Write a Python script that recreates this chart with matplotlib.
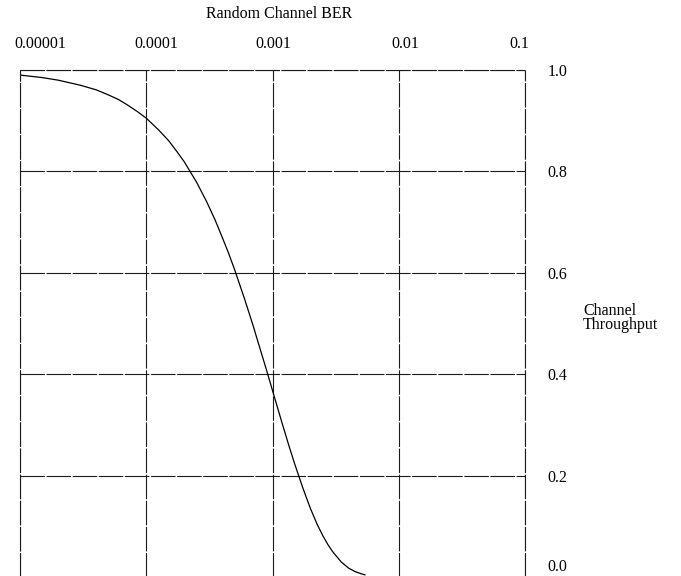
import numpy as np
import matplotlib
matplotlib.use("Agg")
import matplotlib.pyplot as plt
import matplotlib.transforms as mtrans

plt.rcParams['font.family'] = ['Liberation Serif', 'DejaVu Serif']

# values
ber = [1e-5, 1.5e-5, 2e-5, 3e-5, 4e-5, 5e-5, 6e-5, 7e-5, 8.5e-5, 1e-4,
       1.25e-4, 1.5e-4, 1.75e-4, 2e-4, 2.5e-4, 3e-4, 3.5e-4, 4e-4, 4.5e-4,
       5e-4, 6e-4, 7e-4, 8e-4, 9e-4, 1e-3, 1.1e-3, 1.2e-3, 1.35e-3, 1.5e-3,
       1.75e-3, 2e-3, 2.25e-3, 2.5e-3, 2.75e-3, 3e-3, 3.5e-3, 4e-3, 4.5e-3,
       5e-3, 5.4e-3]
throughput = [0.990, 0.985, 0.980, 0.970, 0.961, 0.951, 0.942, 0.932, 0.918,
              0.905, 0.882, 0.861, 0.839, 0.819, 0.779, 0.741, 0.705, 0.670,
              0.638, 0.607, 0.549, 0.497, 0.449, 0.407, 0.368, 0.333, 0.301,
              0.259, 0.223, 0.174, 0.135, 0.105, 0.082, 0.064, 0.050, 0.030,
              0.018, 0.011, 0.007, 0.0045]

xticks = [1e-5, 1e-4, 1e-3, 1e-2, 1e-1]
xlabels = ['0.00001', '0.0001', '0.001', '0.01', '0.1']
yticks = [0.0, 0.2, 0.4, 0.6, 0.8, 1.0]
ylabels = ['0.0', '0.2', '0.4', '0.6', '0.8', '1.0']

fig = plt.figure(figsize=(6.81, 5.76), dpi=100)
ax = fig.add_axes([20/681, -0.002, 505/681, 0.8805])

ax.plot(ber, throughput, color='black', lw=0.9)

ax.set_xscale('log')
ax.set_xlim(1e-5, 1e-1)
ax.set_ylim(0, 1.0)
ax.minorticks_off()

ax.set_xticks(xticks)
ax.set_xticklabels(xlabels)
ax.set_yticks(yticks)
ax.set_yticklabels(ylabels)
ax.xaxis.tick_top()
ax.yaxis.tick_right()
ax.tick_params(axis='x', length=0, pad=13, labelsize=11.5)
ax.tick_params(axis='y', length=0, pad=16, labelsize=11.5)

# hand-set label positions in the original are a little off-centre
shifts = [20, 10, 1, 7, -6]
for lab, dx in zip(ax.get_xticklabels(), shifts):
    lab.set_transform(lab.get_transform() + mtrans.ScaledTranslation(dx/100, 0, fig.dpi_scale_trans))
ylab = ax.get_yticklabels()
ylab[0].set_transform(ylab[0].get_transform() + mtrans.ScaledTranslation(0, 12/100, fig.dpi_scale_trans))

gridstyle = dict(color='#1a1a1a', lw=0.8, linestyle=(0, (22, 1.5)))
for s in ax.spines.values():
    s.set_visible(False)
ax.grid(True, **gridstyle)
for v in [1e-5, 1e-1]:
    ax.axvline(v, clip_on=False, **gridstyle)
ax.axhline(1.0, clip_on=False, **gridstyle)

fig.text(279/681, 1 - 14/576, 'Random Channel BER', ha='center', va='center', fontsize=11.5)
fig.text(583/681, 1 - 318/576, 'Channel\nThroughput', ha='left', va='center',
         fontsize=11.5, linespacing=0.9)

fig.savefig('out.png', dpi=100)
